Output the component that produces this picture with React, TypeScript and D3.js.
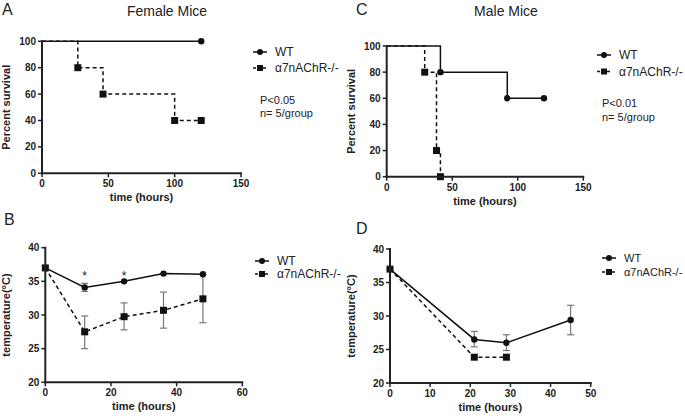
import React from "react";
import * as d3 from "d3";

// ---- Data ----
const femaleWtTimes = [0, 120];
const femaleWtSurv = [100, 100];
const femaleKoTimes = [0, 27, 46, 100, 120];
const femaleKoSurv = [100, 80, 60, 40, 40];

const maleWtTimes = [0, 41, 92, 120];
const maleWtSurv = [100, 80, 60, 60];
const maleKoTimes = [0, 29, 38, 41];
const maleKoSurv = [100, 80, 20, 0];

const femTempTimes = [0, 12, 24, 36, 48];
const femWtTemp = [37, 34.1, 35.0, 36.15, 36.05];
const femWtLo = [37, 33.5, 35.0, 36.15, 36.05];
const femWtHi = [37, 34.7, 35.0, 36.15, 36.05];
const femKoTemp = [37, 27.5, 29.75, 30.7, 32.4];
const femKoLo = [37, 25.0, 27.8, 28.05, 28.85];
const femKoHi = [37, 29.85, 31.8, 33.4, 36.0];
const femStars = [12, 24];
const femStarLevel = 36.3;

const maleWtTempTimes = [0, 21, 29, 45];
const maleWtTemp = [37, 26.5, 26.0, 29.4];
const maleWtLo = [37, 25.4, 24.85, 27.2];
const maleWtHi = [37, 27.7, 27.2, 31.6];
const maleKoTempTimes = [0, 21, 29];
const maleKoTemp = [37, 23.85, 23.85];

const survTicksX = [0, 50, 100, 150];
const survTicksY = [0, 20, 40, 60, 80, 100];
const tempTicksY = [20, 25, 30, 35, 40];
const femTempTicksX = [0, 20, 40, 60];
const maleTempTicksX = [0, 10, 20, 30, 40, 50];

const legendLabels = ["WT", "α7nAChR-/-"];

const FONT = "Liberation Sans, Arial, Helvetica, sans-serif";
const ERR = "#777";
const DASH = "4,3";

type Box = { x0: number; x1: number; y0: number; y1: number };

function Axes({ box, xs, ys, xTicks, yTicks, xTitle, yTitle, yTitleX }: any) {
  return (
    <g fontFamily={FONT} fontWeight="bold" fontSize={10} fill="#222">
      <line x1={box.x0} x2={box.x0} y1={box.y0 - 1} y2={box.y1 + 1} stroke="#222" strokeWidth={2} />
      <line x1={box.x0 - 1} x2={xs(xTicks[xTicks.length - 1]) + 1} y1={box.y1} y2={box.y1} stroke="#222" strokeWidth={2} />
      {yTicks.map((t: number) => (
        <g key={"y" + t}>
          <line x1={box.x0 - 4} x2={box.x0} y1={ys(t)} y2={ys(t)} stroke="#222" strokeWidth={1.5} />
          <text x={box.x0 - 6} y={ys(t)} dy="0.35em" textAnchor="end">{t}</text>
        </g>
      ))}
      {xTicks.map((t: number) => (
        <g key={"x" + t}>
          <line x1={xs(t)} x2={xs(t)} y1={box.y1} y2={box.y1 + 4} stroke="#222" strokeWidth={1.5} />
          <text x={xs(t)} y={box.y1 + 14} textAnchor="middle">{t}</text>
        </g>
      ))}
      <text x={(box.x0 + xs(xTicks[xTicks.length - 1])) / 2} y={box.y1 + 28} textAnchor="middle" fontSize={11}>{xTitle}</text>
      <text transform={`translate(${yTitleX},${(box.y0 + box.y1) / 2}) rotate(-90)`} textAnchor="middle" fontSize={11}>{yTitle}</text>
    </g>
  );
}

function Legend({ x, y, gap, size = 12 }: { x: number; y: number; gap: number; size?: number }) {
  return (
    <g fontFamily={FONT} fontSize={size} fill="#222">
      <line x1={x} x2={x + 14} y1={y} y2={y} stroke="#111" strokeWidth={1.5} />
      <circle cx={x + 7} cy={y} r={3} fill="#111" />
      <text x={x + 22} y={y} dy="0.35em">{legendLabels[0]}</text>
      <line x1={x} x2={x + 14} y1={y + gap} y2={y + gap} stroke="#111" strokeWidth={1.5} strokeDasharray="3,2" />
      <rect x={x + 4} y={y + gap - 3} width={6} height={6} fill="#111" />
      <text x={x + 22} y={y + gap} dy="0.35em">{legendLabels[1]}</text>
    </g>
  );
}

function SurvPanel({ box, wtT, wtS, koT, koS, wtMarkIdx, koMarkIdx }: any) {
  const xs = d3.scaleLinear().domain([0, 150]).range([box.x0, box.x1]);
  const ys = d3.scaleLinear().domain([0, 100]).range([box.y1, box.y0]);
  const mk = (T: number[], S: number[]) =>
    d3.line<[number, number]>().x((d) => xs(d[0])).y((d) => ys(d[1])).curve(d3.curveStepAfter)(T.map((t, i) => [t, S[i]] as [number, number])) || "";
  return (
    <g>
      <path d={mk(koT, koS)} fill="none" stroke="#111" strokeWidth={1.5} strokeDasharray={DASH} />
      <path d={mk(wtT, wtS)} fill="none" stroke="#111" strokeWidth={1.5} />
      {wtMarkIdx.map((i: number) => (
        <circle key={"w" + i} cx={xs(wtT[i])} cy={ys(wtS[i])} r={3.2} fill="#111" />
      ))}
      {koMarkIdx.map((i: number) => (
        <rect key={"k" + i} x={xs(koT[i]) - 3.5} y={ys(koS[i]) - 3.5} width={7} height={7} fill="#111" />
      ))}
      <Axes box={box} xs={xs} ys={ys} xTicks={survTicksX} yTicks={survTicksY} xTitle="time (hours)" yTitle="Percent survival" yTitleX={box.x0 - 32} />
    </g>
  );
}

function TempPanel({ box, xMax, xTicks, wtT, wt, wtLo, wtHi, koT, ko, koLo, koHi, stars, starLevel }: any) {
  const xs = d3.scaleLinear().domain([0, xMax]).range([box.x0, box.x1]);
  const ys = d3.scaleLinear().domain([20, 40]).range([box.y1, box.y0]);
  const path = (T: number[], V: number[]) =>
    d3.line<number>().x((_, i) => xs(T[i])).y((v) => ys(v))(V) || "";
  const errs = (T: number[], lo: number[], hi: number[]) =>
    T.map((t, i) =>
      hi[i] - lo[i] > 0.05 ? (
        <g key={"e" + t + "-" + i} stroke={ERR} strokeWidth={1.2}>
          <line x1={xs(t)} x2={xs(t)} y1={ys(lo[i])} y2={ys(hi[i])} />
          <line x1={xs(t) - 3.5} x2={xs(t) + 3.5} y1={ys(lo[i])} y2={ys(lo[i])} />
          <line x1={xs(t) - 3.5} x2={xs(t) + 3.5} y1={ys(hi[i])} y2={ys(hi[i])} />
        </g>
      ) : null
    );
  return (
    <g>
      {koLo ? errs(koT, koLo, koHi) : null}
      {errs(wtT, wtLo, wtHi)}
      <path d={path(koT, ko)} fill="none" stroke="#111" strokeWidth={1.5} strokeDasharray={DASH} />
      <path d={path(wtT, wt)} fill="none" stroke="#111" strokeWidth={1.5} />
      {wtT.map((t: number, i: number) => (
        <circle key={"w" + i} cx={xs(t)} cy={ys(wt[i])} r={3.2} fill="#111" />
      ))}
      {koT.map((t: number, i: number) => (
        <rect key={"k" + i} x={xs(t) - 3.5} y={ys(ko[i]) - 3.5} width={7} height={7} fill="#111" />
      ))}
      {(stars || []).map((t: number) => (
        <text key={"s" + t} x={xs(t)} y={ys(starLevel) + 7} textAnchor="middle" fontFamily={FONT} fontSize={12} fill="#222">*</text>
      ))}
      <Axes box={box} xs={xs} ys={ys} xTicks={xTicks} yTicks={tempTicksY} xTitle="time (hours)" yTitle="temperature(°C)" yTitleX={box.x0 - 35} />
    </g>
  );
}

export default function App() {
  const boxA: Box = { x0: 42, x1: 241, y0: 41.3, y1: 173.3 };
  const boxC: Box = { x0: 386.7, x1: 583.3, y0: 46, y1: 176.7 };
  const boxB: Box = { x0: 45.3, x1: 242.3, y0: 247.7, y1: 382.3 };
  const boxD: Box = { x0: 390, x1: 590.7, y0: 249, y1: 383 };
  return (
    <svg width={685} height={416} style={{ position: "absolute", left: 0, top: 0, background: "#fff" }}>
      <rect width={685} height={416} fill="#fff" />
      <g fontFamily={FONT} fill="#222">
        <text x={2} y={15} fontSize={16}>A</text>
        <text x={167} y={16} fontSize={14} textAnchor="middle">Female Mice</text>
        <text x={356} y={15} fontSize={16}>C</text>
        <text x={506} y={16} fontSize={14} textAnchor="middle">Male Mice</text>
        <text x={4} y={225} fontSize={16}>B</text>
        <text x={356} y={234} fontSize={16}>D</text>
      </g>
      <SurvPanel box={boxA} wtT={femaleWtTimes} wtS={femaleWtSurv} koT={femaleKoTimes} koS={femaleKoSurv} wtMarkIdx={[1]} koMarkIdx={[1, 2, 3, 4]} />
      <SurvPanel box={boxC} wtT={maleWtTimes} wtS={maleWtSurv} koT={maleKoTimes} koS={maleKoSurv} wtMarkIdx={[1, 2, 3]} koMarkIdx={[1, 2, 3]} />
      <TempPanel box={boxB} xMax={60} xTicks={femTempTicksX} wtT={femTempTimes} wt={femWtTemp} wtLo={femWtLo} wtHi={femWtHi} koT={femTempTimes} ko={femKoTemp} koLo={femKoLo} koHi={femKoHi} stars={femStars} starLevel={femStarLevel} />
      <TempPanel box={boxD} xMax={50} xTicks={maleTempTicksX} wtT={maleWtTempTimes} wt={maleWtTemp} wtLo={maleWtLo} wtHi={maleWtHi} koT={maleKoTempTimes} ko={maleKoTemp} />
      <Legend x={253} y={52} gap={16} />
      <Legend x={597} y={55} gap={16.5} />
      <Legend x={255} y={261} gap={13} />
      <Legend x={602} y={258} gap={14} size={11} />
      <g fontFamily={FONT} fontSize={11} fill="#222">
        <text x={260} y={104}>P&lt;0.05</text>
        <text x={260} y={117}>n= 5/group</text>
        <text x={602} y={107}>P&lt;0.01</text>
        <text x={602} y={121}>n= 5/group</text>
      </g>
    </svg>
  );
}
